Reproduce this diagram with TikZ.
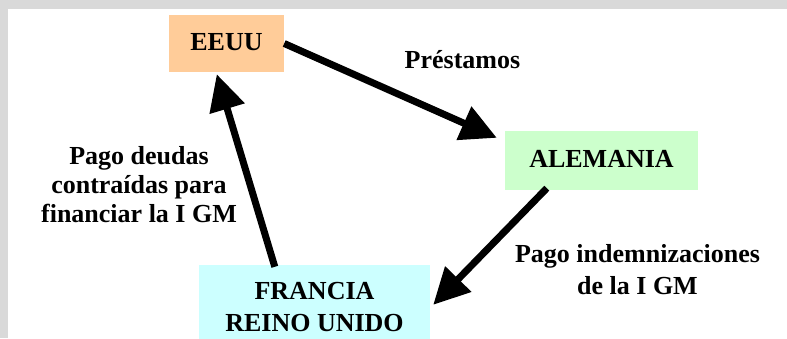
\documentclass[tikz,border=0pt]{standalone}
\usepackage{fontspec}
\setmainfont{Liberation Serif}
\usetikzlibrary{arrows.meta,calc}
\definecolor{bggray}{RGB}{217,217,217}
\definecolor{peach}{RGB}{255,204,153}
\definecolor{mint}{RGB}{204,255,204}
\definecolor{aqua}{RGB}{204,255,255}
\begin{document}
\begin{tikzpicture}[x=1pt,y=-1pt,
  box/.style={rectangle,inner sep=0pt,draw=none,font=\bfseries\fontsize{26}{32}\selectfont,align=center},
  lbl/.style={inner sep=0pt,font=\bfseries\fontsize{26}{32}\selectfont,align=center},
  flow/.style={line width=7pt,-{Triangle[length=36pt,width=35pt]}}]
\useasboundingbox (0,0) rectangle (787,338);
\fill[bggray] (0,0) rectangle (787,338);
\fill[white] (8,9) rectangle (787,338);
\node[box,fill=peach,minimum width=115pt,minimum height=57pt,text depth=4pt] (eeuu) at (226.5,43.5) {EEUU};
\node[box,fill=mint,minimum width=193pt,minimum height=59pt,text depth=4pt] (alemania) at (601.5,160.5) {ALEMANIA};
\node[box,fill=aqua,minimum width=231pt,minimum height=85pt] (francia) at (314.5,307.5) {FRANCIA\\REINO UNIDO};
\node[lbl,anchor=base] (prest) at (462.5,68) {Préstamos};
\node[lbl,font=\bfseries\fontsize{26}{29}\selectfont] (deudas) at (139,185) {Pago deudas\\contraídas para\\financiar la I GM};
\node[lbl] (indem) at (637.5,270) {Pago indemnizaciones\\de la I GM};
\coordinate (tipA) at ($(alemania.north west)+(-8,7)$);
\coordinate (startF) at ($(alemania.south west)+(42,-2)$);
\coordinate (tipF) at ($(francia.north east)+(3,40)$);
\coordinate (startE) at ($(francia.north west)+(76,2)$);
\coordinate (tipE) at ($(eeuu.south west)+(48,2)$);
\draw[flow] (eeuu.east) -- (tipA);
\draw[flow] (startF) -- (tipF);
\draw[flow] (startE) -- (tipE);
\end{tikzpicture}
\end{document}
